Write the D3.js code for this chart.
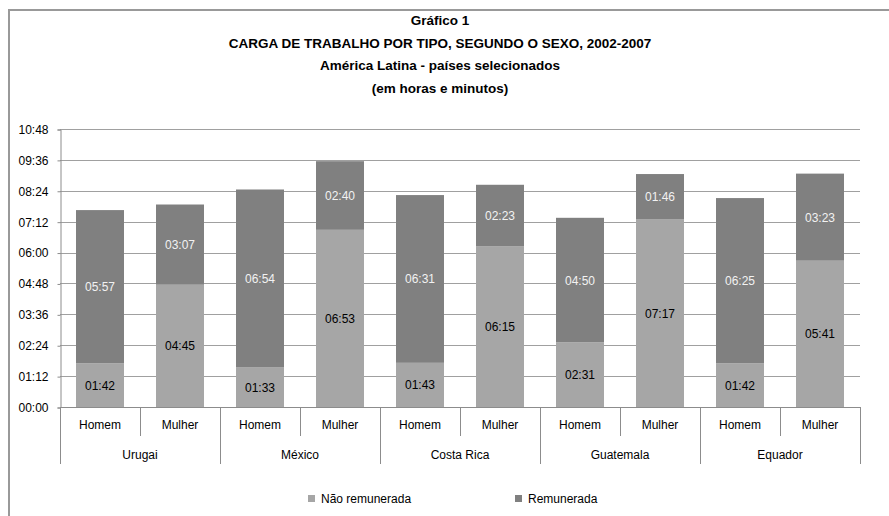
<!DOCTYPE html>
<html><head><meta charset="utf-8">
<script src="https://cdn.jsdelivr.net/npm/d3@7"></script>
<style>body{margin:0;background:#fff}svg{display:block}text{font-family:"Liberation Sans",Arial,sans-serif}</style>
</head><body>
<svg id="c" width="889" height="516"></svg>
<script>
const countries = ["Urugai","México","Costa Rica","Guatemala","Equador"];
const sexes = ["Homem","Mulher"];
const naoRemunerada = ["01:42","04:45","01:33","06:53","01:43","06:15","02:31","07:17","01:42","05:41"];
const remunerada    = ["05:57","03:07","06:54","02:40","06:31","02:23","04:50","01:46","06:25","03:23"];
const yTicks = ["00:00","01:12","02:24","03:36","04:48","06:00","07:12","08:24","09:36","10:48"];
const titleLines = ["Gráfico 1","CARGA DE TRABALHO POR TIPO, SEGUNDO O SEXO, 2002-2007","América Latina - países selecionados","(em horas e minutos)"];
const seriesNames = ["Não remunerada","Remunerada"];
const colors = ["#a6a6a6","#808080"];

(function(){
const toMin = s => { const [h,m] = s.split(":").map(Number); return h*60+m; };
const FS = 12;

const svg = d3.select("#c");
// outer frame
svg.append("rect").attr("x",9).attr("y",10).attr("width",900).attr("height",520)
  .attr("fill","none").attr("stroke","#999").attr("stroke-width",2);

// title
svg.selectAll(".title").data(titleLines).enter().append("text")
  .attr("x",440).attr("y",(d,i)=>25+i*22.7).attr("text-anchor","middle")
  .attr("font-weight","bold").attr("font-size",13.5).attr("fill","#000").text(d=>d);

const pL=60, pR=860, pT=129, pB=407;
const keys = [];
countries.forEach(c=>sexes.forEach(s=>keys.push(c+"|"+s)));
const rows = keys.map((k,i)=>({key:k, sex:k.split("|")[1], nr:toMin(naoRemunerada[i]), r:toMin(remunerada[i]), nrL:naoRemunerada[i], rL:remunerada[i]}));

const x = d3.scaleBand().domain(keys).range([pL,pR]).paddingInner(0.4).paddingOuter(0.2);
const y = d3.scaleLinear().domain([0, toMin(yTicks[yTicks.length-1])]).range([pB,pT]);

// gridlines
svg.append("g").selectAll("line").data(yTicks.slice(1)).enter().append("line")
  .attr("x1",pL).attr("x2",pR).attr("y1",d=>Math.round(y(toMin(d)))+0.5).attr("y2",d=>Math.round(y(toMin(d)))+0.5)
  .attr("stroke","#a0a0a0").attr("stroke-width",1);

// y axis
const yAxis = d3.axisLeft(y).tickValues(yTicks.map(toMin)).tickFormat((d,i)=>yTicks[i]).tickSize(3).tickPadding(9);
const ya = svg.append("g").attr("transform",`translate(${pL+0.5},0.5)`).call(yAxis);
ya.select(".domain").attr("stroke","#8c8c8c");
ya.selectAll(".tick line").attr("stroke","#8c8c8c");
ya.selectAll("text").attr("font-size",FS).attr("fill","#000").attr("font-family","Liberation Sans, Arial, sans-serif");

// stacked bars
const stack = d3.stack().keys(["nr","r"]);
const series = stack(rows);
const g = svg.append("g");
series.forEach((s,si)=>{
  g.selectAll(null).data(s).enter().append("rect")
    .attr("x",d=>x(d.data.key)).attr("width",x.bandwidth())
    .attr("y",d=>y(d[1])).attr("height",d=>y(d[0])-y(d[1]))
    .attr("fill",colors[si]);
  g.selectAll(null).data(s).enter().append("text")
    .attr("x",d=>x(d.data.key)+x.bandwidth()/2)
    .attr("y",d=>(y(d[0])+y(d[1]))/2+4.5)
    .attr("text-anchor","middle").attr("font-size",FS)
    .attr("fill",si===0?"#000":"#f2f2f2")
    .text(d=>si===0?d.data.nrL:d.data.rL);
});

// x axis baseline
svg.append("line").attr("x1",pL).attr("x2",pR).attr("y1",pB+0.5).attr("y2",pB+0.5).attr("stroke","#8c8c8c");
// sub dividers
const step = x.step();
const subDiv = d3.range(0,11).map(i=>pL+i*step);
svg.append("g").selectAll("line").data(subDiv).enter().append("line")
  .attr("x1",d=>Math.round(d)+0.5).attr("x2",d=>Math.round(d)+0.5)
  .attr("y1",pB).attr("y2",(d,i)=>i%2===0?464:436).attr("stroke","#8c8c8c");
// sex labels
svg.append("g").selectAll("text").data(rows).enter().append("text")
  .attr("x",d=>x(d.key)+x.bandwidth()/2).attr("y",429).attr("text-anchor","middle")
  .attr("font-size",FS).attr("fill","#000").text(d=>d.sex);
// country labels
svg.append("g").selectAll("text").data(countries).enter().append("text")
  .attr("x",(d,i)=>pL+step*(2*i+1)).attr("y",459).attr("text-anchor","middle")
  .attr("font-size",FS).attr("fill","#000").text(d=>d);

// legend
const lg = svg.append("g");
const legX = [308,515];
seriesNames.forEach((n,i)=>{
  lg.append("rect").attr("x",legX[i]).attr("y",495).attr("width",7).attr("height",7).attr("fill",colors[i]);
  lg.append("text").attr("x",legX[i]+13).attr("y",503).attr("font-size",FS).attr("fill","#000").text(n);
});
})();
</script>
</body></html>
